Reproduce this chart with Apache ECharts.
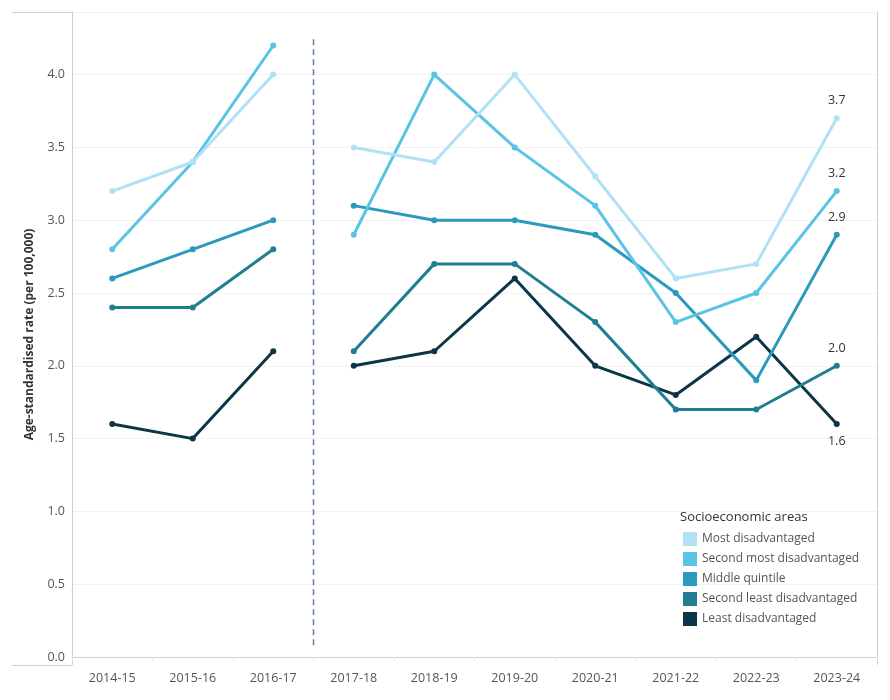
<!DOCTYPE html>
<html><head><meta charset="utf-8">
<script src="https://cdn.jsdelivr.net/npm/echarts@6/dist/echarts.min.js"></script>
<style>html,body{margin:0;padding:0;background:#fff}#c{width:890px;height:700px}</style>
</head><body><div id="c"></div>
<script>
var categories = ['2014-15','2015-16','2016-17','2017-18','2018-19','2019-20','2020-21','2021-22','2022-23','2023-24'];
var seriesNames = ['Most disadvantaged','Second most disadvantaged','Middle quintile','Second least disadvantaged','Least disadvantaged'];
var mostDisadvantaged = [3.2,3.4,4.0,3.5,3.4,4.0,3.3,2.6,2.7,3.7];
var secondMostDisadvantaged = [2.8,3.4,4.2,2.9,4.0,3.5,3.1,2.3,2.5,3.2];
var middleQuintile = [2.6,2.8,3.0,3.1,3.0,3.0,2.9,2.5,1.9,2.9];
var secondLeastDisadvantaged = [2.4,2.4,2.8,2.1,2.7,2.7,2.3,1.7,1.7,2.0];
var leastDisadvantaged = [1.6,1.5,2.1,2.0,2.1,2.6,2.0,1.8,2.2,1.6];
var yTicks = [0,0.5,1.0,1.5,2.0,2.5,3.0,3.5,4.0];
var breakIndex = 3; // series break between 2016-17 and 2017-18
var colors = ['#b1e1f4','#5bc3e6','#2c9abd','#217e92','#0c3646'];
var endLabelPos = ['top','top','top','top','bottom'];
var allData = [mostDisadvantaged,secondMostDisadvantaged,middleQuintile,secondLeastDisadvantaged,leastDisadvantaged];

var series = [];
allData.forEach(function(arr, k){
  var before = arr.map(function(v,i){ return i < breakIndex ? v : '-'; });
  var after = arr.map(function(v,i){
    if (i < breakIndex) return '-';
    if (i === arr.length-1) return {value: v, label: {show: true, position: endLabelPos[k], distance: 8,
      formatter: function(p){ return Number(p.value).toFixed(1); }, color: '#333', fontSize: 12.5, fontFamily: 'Open Sans'}};
    return v;
  });
  [before, after].forEach(function(d){
    series.push({
      name: seriesNames[k], type: 'line', data: d, xAxisIndex: 0, yAxisIndex: 0,
      symbol: 'circle', symbolSize: 6, connectNulls: false,
      lineStyle: {width: 3, color: colors[k]}, itemStyle: {color: colors[k]},
      z: 10 - k, animation: false
    });
  });
});
series.push({
  type: 'line', xAxisIndex: 1, yAxisIndex: 0, data: [[breakIndex,0.08],[breakIndex,4.27]],
  symbol: 'none', lineStyle: {color: '#5b7fae', width: 1.5, type: [6,4]}, animation: false, silent: true
});

var chart = echarts.init(document.getElementById('c'));
chart.setOption({
  backgroundColor: '#fff',
  animation: false,
  textStyle: {fontFamily: 'Open Sans'},
  grid: {left: 72, right: 13, top: 12, bottom: 43},
  xAxis: [{
    type: 'category', data: categories, boundaryGap: true, offset: 8,
    axisLine: {show: true, lineStyle: {color: '#cfcfcf'}},
    axisTick: {show: true, alignWithLabel: false, length: 4, lineStyle: {color: '#e6e6e6'}},
    axisLabel: {color: '#555', fontSize: 12.5, margin: 7}
  },{
    type: 'value', min: 0, max: categories.length, show: false
  }],
  yAxis: [{
    type: 'value', min: 0, max: 4.43, interval: 0.5,
    name: 'Age-standardised rate (per 100,000)', nameLocation: 'middle', nameGap: 36, nameRotate: 90,
    nameTextStyle: {color: '#333', fontSize: 12, fontWeight: 'bold'},
    axisLine: {show: true, lineStyle: {color: '#cfcfcf'}},
    axisTick: {show: false},
    axisLabel: {color: '#555', fontSize: 12.5, margin: 7, showMaxLabel: false,
      formatter: function(v){ return yTicks.indexOf(v) >= 0 ? v.toFixed(1) : ''; }},
    splitLine: {show: true, lineStyle: {color: '#f3f3f3'}}
  }],
  legend: {
    data: seriesNames, orient: 'vertical', left: 678, top: 527,
    icon: 'rect', itemWidth: 14, itemHeight: 14, itemGap: 6, itemStyle: {borderWidth: 0},
    textStyle: {color: '#555', fontSize: 12}
  },
  graphic: [
    {type: 'text', left: 680, top: 511, style: {text: 'Socioeconomic areas', fill: '#333', fontSize: 13, fontFamily: 'Open Sans'}},
    {type: 'line', shape: {x1: 12, y1: 12.5, x2: 877.5, y2: 12.5}, style: {stroke: '#cfcfcf', lineWidth: 1}},
    {type: 'line', shape: {x1: 877.5, y1: 12, x2: 877.5, y2: 665}, style: {stroke: '#cfcfcf', lineWidth: 1}},
    {type: 'line', shape: {x1: 12, y1: 665.5, x2: 72, y2: 665.5}, style: {stroke: '#cfcfcf', lineWidth: 1}},
    {type: 'line', shape: {x1: 72.5, y1: 657, x2: 72.5, y2: 665}, style: {stroke: '#cfcfcf', lineWidth: 1}}
  ],
  series: series
});
</script></body></html>
